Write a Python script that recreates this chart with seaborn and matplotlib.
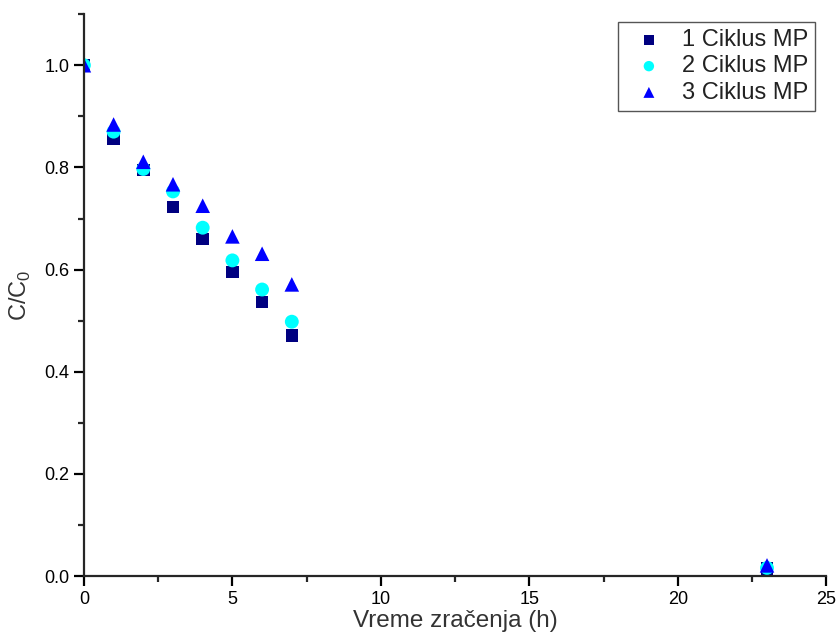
import pandas as pd
import matplotlib
matplotlib.use("Agg")
import matplotlib.pyplot as plt
from matplotlib.ticker import MultipleLocator
import seaborn as sns

# data
hours = [0, 1, 2, 3, 4, 5, 6, 7, 23]
ciklus1 = [1.0, 0.856, 0.795, 0.723, 0.660, 0.595, 0.537, 0.471, 0.015]
ciklus2 = [1.0, 0.870, 0.797, 0.753, 0.682, 0.618, 0.561, 0.498, 0.016]
ciklus3 = [1.0, 0.884, 0.811, 0.767, 0.725, 0.665, 0.631, 0.571, 0.021]
series_names = ["1 Ciklus MP", "2 Ciklus MP", "3 Ciklus MP"]

df = pd.concat([
    pd.DataFrame({"t": hours, "c": ciklus1, "serija": series_names[0]}),
    pd.DataFrame({"t": hours, "c": ciklus2, "serija": series_names[1]}),
    pd.DataFrame({"t": hours, "c": ciklus3, "serija": series_names[2]}),
], ignore_index=True)

sns.set_style("ticks")
plt.rcParams['font.family'] = ['Liberation Sans', 'DejaVu Sans']

fig = plt.figure(figsize=(8.39, 6.43), dpi=100)
ax = fig.add_axes([0.100, 0.104, 0.885, 0.874])

palette = {series_names[0]: "#000080", series_names[1]: "#00FFFF", series_names[2]: "#0000FF"}
markers = {series_names[0]: "s", series_names[1]: "o", series_names[2]: "^"}
sizes = {series_names[0]: 80, series_names[1]: 100, series_names[2]: 110}

for name in series_names:
    sub = df[df["serija"] == name]
    sns.scatterplot(data=sub, x="t", y="c", color=palette[name], marker=markers[name],
                    s=sizes[name], edgecolor="none", linewidth=0, label=name, ax=ax)

ax.set_xlim(0, 25)
ax.set_ylim(0, 1.1)
ax.xaxis.set_major_locator(MultipleLocator(5))
ax.xaxis.set_minor_locator(MultipleLocator(2.5))
ax.yaxis.set_major_locator(MultipleLocator(0.2))
ax.yaxis.set_minor_locator(MultipleLocator(0.1))
ax.set_yticks([0.0, 0.2, 0.4, 0.6, 0.8, 1.0])
ax.set_yticklabels(["0.0", "0.2", "0.4", "0.6", "0.8", "1.0"])

sns.despine(ax=ax)
for side in ["left", "bottom"]:
    ax.spines[side].set_linewidth(1.6)
ax.tick_params(which="major", direction="out", length=7, width=1.6, labelsize=13, colors="black")
ax.tick_params(which="minor", direction="out", length=4, width=1.6)

ax.set_xlabel("Vreme zračenja (h)", fontsize=17.5, color="#333333", labelpad=2)
ax.set_ylabel(r"C/C$_\mathregular{0}$", fontsize=17, color="#333333", labelpad=8)

leg = ax.legend(loc="upper right", bbox_to_anchor=(0.985, 0.986), fontsize=17,
                frameon=True, fancybox=False, framealpha=1, edgecolor="#555555",
                handletextpad=0.4, borderpad=0.3, labelspacing=0.18,
                handlelength=2.0, borderaxespad=0, markerscale=0.75)
leg.get_frame().set_linewidth(1.0)
for txt in leg.get_texts():
    txt.set_color("#222222")

fig.savefig("out.png", dpi=100)
